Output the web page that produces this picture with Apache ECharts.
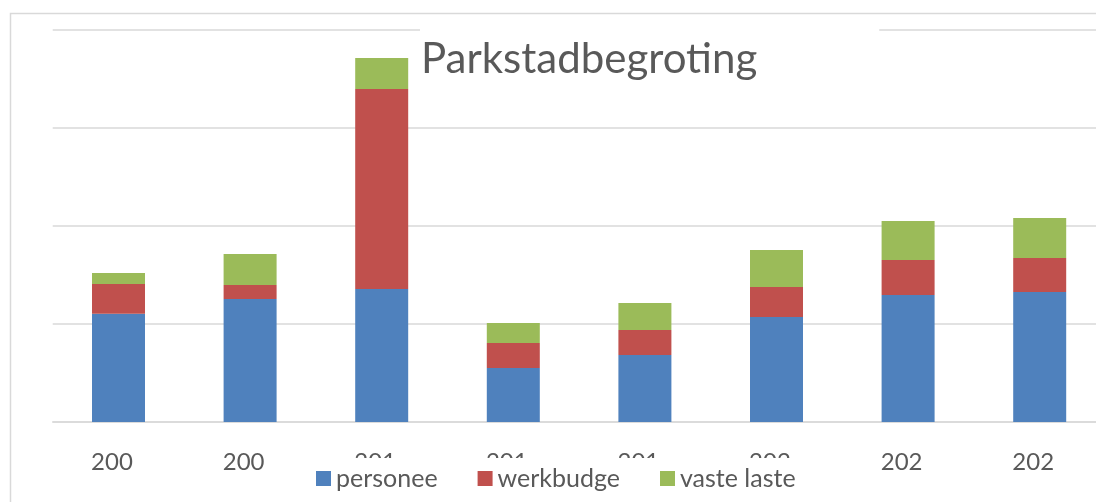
<!DOCTYPE html>
<html>
<head>
<meta charset="utf-8">
<title>Parkstadbegroting</title>
<script src="https://cdn.jsdelivr.net/npm/echarts@6/dist/echarts.min.js"></script>
<style>
  html, body { margin: 0; padding: 0; background: #fff; }
  #chart { width: 1096px; height: 502px; }
</style>
</head>
<body>
<div id="chart"></div>
<script>
// labels are cut off in the original, kept as shown
var jaren = ['200', '200', '201', '201', '201', '202', '202', '202'];
var seriesNamen = ['personeel', 'werkbudget', 'vaste lasten'];
var legendaTekst = ['personee', 'werkbudge', 'vaste laste'];

// values (no axis labels, 1 gridline = 100)
var personeel = [110.5, 125.5, 135.7, 55.1, 68.4, 107.1, 129.6, 132.7];
var werkbudget = [30.3, 14.3, 204.1, 25.5, 25.5, 30.6, 35.7, 34.7];
var vasteLasten = [11.2, 31.6, 31.6, 20.4, 27.6, 37.8, 39.8, 40.8];

var kleuren = ['#4f81bd', '#c0504d', '#9bbb59'];
var grijs = '#595959';

var myChart = echarts.init(document.getElementById('chart'));

function maakSerie(naam, data, kleur) {
  return {
    name: naam,
    type: 'bar',
    stack: 'totaal',
    barWidth: 53,
    data: data,
    itemStyle: { color: kleur },
    emphasis: { disabled: true }
  };
}

var option = {
  animation: false,
  textStyle: { fontFamily: 'Lato' },
  title: {
    text: 'Parkstadbegroting',
    left: 420,
    top: 29,
    padding: [9, 122, 12, 1],
    backgroundColor: '#fff',
    textStyle: { fontFamily: 'Lato', fontSize: 42, fontWeight: 'normal', color: grijs }
  },
  // outer frame of the chart area
  graphic: [{
    type: 'rect',
    shape: { x: 10.5, y: 13.5, width: 1200, height: 600 },
    style: { fill: 'none', stroke: '#d9d9d9', lineWidth: 1.5 },
    silent: true
  }],
  legend: {
    data: seriesNamen,
    left: 300,
    top: 458,
    padding: [8, 40, 20, 16],
    backgroundColor: '#fff',
    icon: 'rect',
    itemWidth: 15,
    itemHeight: 15,
    itemGap: 40,
    formatter: function (naam) {
      return legendaTekst[seriesNamen.indexOf(naam)];
    },
    textStyle: { fontFamily: 'Lato', fontSize: 25, color: grijs, padding: [10, 0, 0, 0] }
  },
  grid: {
    left: 52.7,
    right: -9.5,
    top: 30,
    bottom: 80,
    containLabel: false,
    outerBoundsMode: 'none'
  },
  xAxis: {
    type: 'category',
    data: jaren,
    axisLine: { lineStyle: { color: '#d9d9d9', width: 1.5 } },
    axisTick: { show: false },
    axisLabel: { fontFamily: 'Lato', fontSize: 24, color: grijs, margin: 28, padding: [0, 13, 0, 0] }
  },
  yAxis: {
    type: 'value',
    min: 0,
    max: 400,
    interval: 100,
    axisLabel: { show: false },
    axisLine: { show: false },
    axisTick: { show: false },
    splitLine: { lineStyle: { color: '#d9d9d9', width: 1.5 } }
  },
  series: [
    maakSerie(seriesNamen[0], personeel, kleuren[0]),
    maakSerie(seriesNamen[1], werkbudget, kleuren[1]),
    maakSerie(seriesNamen[2], vasteLasten, kleuren[2])
  ]
};

myChart.setOption(option);
</script>
</body>
</html>
